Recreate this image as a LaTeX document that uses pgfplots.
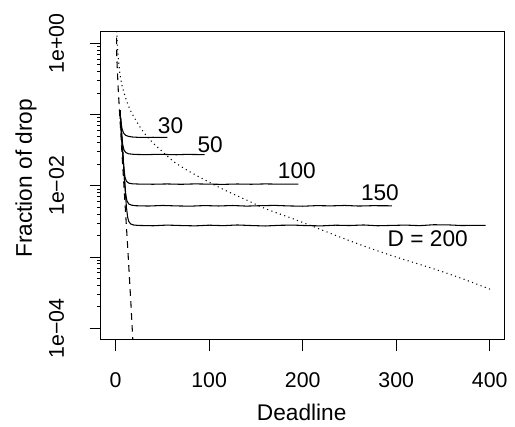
\documentclass[border=0pt]{standalone}
\usepackage{fontspec}
\setmainfont{Liberation Sans}
\usepackage{pgfplots}
\pgfplotsset{compat=1.18}

\begin{document}
\begin{tikzpicture}
\path[use as bounding box] (-75.53pt,-65.25pt) rectangle (310.73pt,255pt);
\begin{axis}[
 at={(0,0)},anchor=south west,
 scale only axis,width=303pt,height=231.2pt,
 ymode=log,
 xmin=-16,xmax=416,ymin=6.855e-5,ymax=1.455,
 axis line style={line width=.75pt},
 tick style={black,line width=.75pt},
 tick align=outside,major tick length=8.25pt,
 xtick={0,100,200,300,400},xticklabels={0,100,200,300,400},
 ytick={1e-4,1e-3,1e-2,1e-1,1},
 yticklabels={1e−04,,1e−02,,1e+00},
 minor tick num=0,
 xtick pos=left,ytick pos=left,
 ticklabel style={font=\fontsize{16}{19}\selectfont},
 xticklabel style={yshift=-27.75pt,anchor=base},
 yticklabel style={xshift=-19.3pt,rotate=90,anchor=base},
 xlabel={Deadline},ylabel={Fraction of drop},
 label style={font=\fontsize{17}{20}\selectfont},
 xlabel style={at={(axis description cs:0.4975,-0.2618)},anchor=base},
 ylabel style={at={(axis description cs:-0.185,0.5245)},anchor=center},
 cycle list={{black,no markers,line width=.8pt}}]
% dashed
\addplot[black,no markers,line width=.8pt,dash pattern=on 5pt off 4pt] coordinates
 {(0.9,1.778) (1.2,0.631) (2.8,0.2188) (7,0.02512) (12.8,0.001413)
  (16.3,0.0002239) (18.5,0.0000631)};
% dotted
\addplot[black,no markers,line width=.8pt,dash pattern=on .8pt off 2.6pt,smooth] coordinates
 {(0.8,1.995) (1.5,1.202) (2,0.8913) (3,0.5888) (4.6,0.3715) (7,0.2512)
  (10,0.1820) (15,0.1202) (22,0.08128) (30,0.05623) (40,0.03981)
  (50,0.03020) (62,0.02188) (75,0.01698) (90,0.01318) (115,0.008913)
  (140,0.006310) (160,0.004786) (185,0.003631) (210,0.002723)
  (240,0.001905) (268,0.001390) (300,0.001000) (340,0.0006839)
  (370,0.0005012) (401,0.0003508)};
% D = 30
\addplot[black,no markers,line width=.8pt] coordinates
 {(4.6,0.1148) (5.2,0.0912) (5.9,0.0741) (7,0.0617) (8.5,0.0550)
  (10.5,0.0513) (13.5,0.0495) (18,0.0484) (24,0.0479) (32,0.0477)
  (40,0.0480) (48,0.0478) (55.4,0.0479)};
% D = 50
\addplot[black,no markers,line width=.8pt] coordinates
 {(4.6,0.1148) (5.5,0.0759) (6.5,0.0501) (7.5,0.0380) (9,0.0316)
  (11,0.0292) (14,0.0281) (19,0.0277) (24,0.0275) (35,0.0274)
  (45,0.0277) (55,0.0275) (65,0.0273) (75,0.0276) (85,0.0275)
  (95.2,0.0274)};
% D = 100
\addplot[black,no markers,line width=.8pt] coordinates
 {(4.6,0.1148) (6,0.0603) (7.6,0.0288) (8.8,0.0174) (10,0.0132)
  (11.5,0.0116) (14,0.0109) (18,0.01067) (24,0.01059) (40,0.01052)
  (55,0.01062) (70,0.01050) (85,0.01064) (100,0.01055) (115,0.01048)
  (130,0.01060) (145,0.01052) (160,0.01063) (175,0.01055) (195.4,0.01058)};
% D = 150
\addplot[black,no markers,line width=.8pt] coordinates
 {(4.6,0.1148) (6,0.0603) (8,0.0240) (9.5,0.01202) (10.8,0.00759)
  (12,0.00617) (14,0.00556) (17,0.00535) (22,0.00525) (35,0.00520)
  (50,0.00530) (65,0.00522) (80,0.00518) (95,0.00528) (110,0.00521)
  (125,0.00529) (140,0.00519) (155,0.00526) (170,0.00531) (185,0.00522)
  (200,0.00517) (215,0.00527) (230,0.00523) (245,0.00530) (260,0.00520)
  (275,0.00526) (295.3,0.00524)};
% D = 200
\addplot[black,no markers,line width=.8pt] coordinates
 {(4.6,0.1148) (6,0.0603) (8,0.0240) (10,0.00955) (11.5,0.00501)
  (12.8,0.00363) (14,0.00316) (16,0.00292) (19,0.00282) (24,0.00278)
  (40,0.00275) (55,0.00281) (70,0.00277) (85,0.00274) (100,0.00280)
  (115,0.00276) (130,0.00282) (145,0.00277) (160,0.00273) (175,0.00279)
  (190,0.00281) (205,0.00276) (220,0.00274) (235,0.00280) (250,0.00277)
  (265,0.00282) (280,0.00275) (295,0.00278) (310,0.00281) (325,0.00276)
  (340,0.00284) (355,0.00283) (370,0.00277) (385,0.00279) (395.5,0.00278)};
\begin{scope}[every node/.style={inner sep=0pt,font=\fontsize{17}{20}\selectfont}]
\node at (axis cs:58.7,0.06934) {30};
\node at (axis cs:101,0.03811) {50};
\node at (axis cs:193.8,0.01607) {100};
\node at (axis cs:282.6,0.008110) {150};
\node at (axis cs:333.7,0.001832) {D = 200};
\end{scope}
\end{axis}
\end{tikzpicture}
\end{document}
